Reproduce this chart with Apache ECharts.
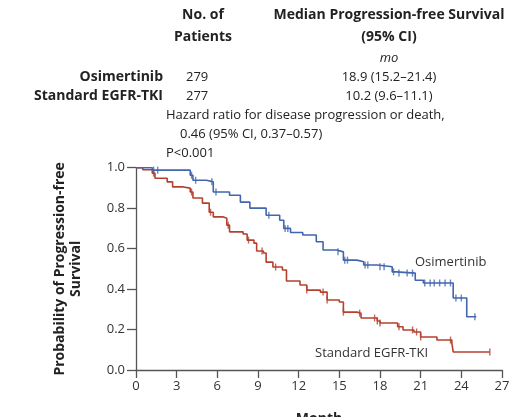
<!DOCTYPE html>
<html><head><meta charset="utf-8">
<script src="https://cdn.jsdelivr.net/npm/echarts@6/dist/echarts.min.js"></script>
<style>html,body{margin:0;padding:0;background:#fff}#c{width:510px;height:417px}</style>
</head><body><div id="c"></div>
<script>
// Kaplan-Meier step data: [month, survival probability]
var osiMonths = [0, 1.2, 4.0, 4.2, 5.2, 5.7, 6.9, 7.7, 8.4, 9.6, 10.6, 10.9, 11.4, 12.3, 13.3, 13.8, 14.8, 15.3, 16.3, 16.8, 17.8, 18.9, 19.2, 20.6, 21.2, 23.4, 24.4, 25.1];
var osiSurv   = [1.0, 0.988, 0.963, 0.938, 0.93, 0.88, 0.864, 0.83, 0.80, 0.765, 0.74, 0.70, 0.68, 0.667, 0.634, 0.593, 0.584, 0.543, 0.535, 0.519, 0.51, 0.485, 0.479, 0.444, 0.43, 0.356, 0.263, 0.263];
var stdMonths = [0, 0.5, 1.2, 1.4, 2.3, 2.7, 3.5, 4.0, 4.2, 4.9, 5.4, 5.7, 6.4, 6.7, 6.9, 7.9, 8.2, 8.7, 8.9, 9.4, 9.6, 10.1, 10.8, 11.1, 12.1, 12.6, 13.6, 14.1, 15.0, 15.3, 16.3, 16.6, 17.8, 18.0, 19.3, 19.7, 20.5, 21.0, 22.2, 23.3, 23.4, 26.1];
var stdSurv   = [1.0, 0.99, 0.973, 0.948, 0.93, 0.905, 0.899, 0.88, 0.85, 0.825, 0.78, 0.757, 0.75, 0.716, 0.683, 0.672, 0.642, 0.627, 0.588, 0.578, 0.533, 0.509, 0.494, 0.44, 0.42, 0.395, 0.385, 0.346, 0.336, 0.286, 0.281, 0.257, 0.242, 0.232, 0.214, 0.198, 0.188, 0.163, 0.148, 0.133, 0.089, 0.089];
// censoring times (months)
var osiCensor = [1.3, 1.6, 4.1, 4.4, 5.6, 5.9, 9.8, 11.0, 11.2, 14.9, 15.4, 15.6, 16.9, 17.1, 18.0, 18.3, 19.0, 19.4, 20.0, 20.4, 21.3, 21.7, 22.0, 22.4, 22.8, 23.2, 23.6, 24.0, 25.0];
var stdCensor = [1.3, 4.1, 5.5, 6.8, 8.3, 9.3, 10.3, 12.6, 13.8, 14.1, 15.3, 16.5, 17.6, 17.8, 18.0, 19.4, 20.4, 20.7, 21.0, 23.2, 26.1];
var xTicks = [0, 3, 6, 9, 12, 15, 18, 21, 24, 27];
var yTicks = [0.0, 0.2, 0.4, 0.6, 0.8, 1.0];

var BLUE = '#4266ae', RED = '#b5402d', FONT = 'Open Sans';

function pairs(ms, ss){ return ms.map(function(m,i){ return [m, ss[i]]; }); }
function stepAt(ms, ss, t){ var v = ss[0]; for (var i=0;i<ms.length;i++){ if (ms[i] <= t) v = ss[i]; } return v; }
function censorPts(cs, ms, ss){ return cs.map(function(t){ return [t, stepAt(ms, ss, t)]; }); }

var chart = echarts.init(document.getElementById('c'), null, {renderer:'canvas'});
var txt = function(x, y, s, o){ return {type:'text', x:x, y:y, style:Object.assign({text:s, fontFamily:FONT, fontSize:14, fill:'#222', textVerticalAlign:'middle'}, o||{})}; };
chart.setOption({
  animation:false,
  backgroundColor:'#fff',
  grid:{left:136, right:8, top:167.7, bottom:47, containLabel:false, outerBoundsMode:'none'},
  xAxis:{type:'value', min:0, max:27, interval:3,
    axisLine:{lineStyle:{color:'#555', width:1.3}},
    axisTick:{length:8, lineStyle:{color:'#555', width:1.3}},
    axisLabel:{color:'#333', fontFamily:FONT, fontSize:13, margin:10, formatter:function(v){return xTicks.indexOf(v)>=0? String(v):'';}},
    splitLine:{show:false},
    name:'Month', nameLocation:'middle', nameGap:42, nameTextStyle:{fontFamily:FONT, fontSize:14, fontWeight:'bold', color:'#222'}},
  yAxis:{type:'value', min:0, max:1, interval:0.2,
    axisLine:{show:true, lineStyle:{color:'#555', width:1.3}},
    axisTick:{show:true, length:9, lineStyle:{color:'#555', width:1.3}},
    axisLabel:{color:'#333', fontFamily:FONT, fontSize:13, margin:11, formatter:function(v){return v.toFixed(1);}},
    splitLine:{show:false},
    name:'Probability of Progression-free\nSurvival', nameLocation:'middle', nameGap:52, nameRotate:90,
    nameTextStyle:{fontFamily:FONT, fontSize:14, fontWeight:'bold', color:'#222', lineHeight:16}},
  series:[
    {type:'line', step:'end', data:pairs(stdMonths, stdSurv), symbol:'none', lineStyle:{color:RED, width:1.6}, z:3},
    {type:'line', step:'end', data:pairs(osiMonths, osiSurv), symbol:'none', lineStyle:{color:BLUE, width:1.6}, z:3},
    {type:'scatter', data:censorPts(stdCensor, stdMonths, stdSurv), symbol:'rect', symbolSize:[1.4,7], itemStyle:{color:RED}, z:4},
    {type:'scatter', data:censorPts(osiCensor, osiMonths, osiSurv), symbol:'rect', symbolSize:[1.4,7], itemStyle:{color:BLUE}, z:4}
  ],
  graphic:[
    txt(203, 15, 'No. of', {fontWeight:'bold', textAlign:'center'}),
    txt(203, 37, 'Patients', {fontWeight:'bold', textAlign:'center'}),
    txt(389, 15, 'Median Progression-free Survival', {fontWeight:'bold', textAlign:'center'}),
    txt(389, 37, '(95% CI)', {fontWeight:'bold', textAlign:'center'}),
    txt(389, 58, 'mo', {fontStyle:'italic', textAlign:'center', fontSize:13}),
    txt(163, 77, 'Osimertinib', {fontWeight:'bold', textAlign:'right'}),
    txt(186, 77, '279', {fontSize:13}),
    txt(389, 77, '18.9 (15.2\u201321.4)', {textAlign:'center', fontSize:13}),
    txt(163, 96, 'Standard EGFR-TKI', {fontWeight:'bold', textAlign:'right'}),
    txt(186, 96, '277', {fontSize:13}),
    txt(389, 96, '10.2 (9.6\u201311.1)', {textAlign:'center', fontSize:13}),
    txt(166, 115, 'Hazard ratio for disease progression or death,', {fontSize:13}),
    txt(180, 134, '0.46 (95% CI, 0.37\u20130.57)', {fontSize:13}),
    txt(166, 153, 'P<0.001', {fontSize:13}),
    txt(415, 262, 'Osimertinib', {fontSize:13, fill:'#333'}),
    txt(315, 353, 'Standard EGFR-TKI', {fontSize:13, fill:'#333'})
  ]
});
</script></body></html>
